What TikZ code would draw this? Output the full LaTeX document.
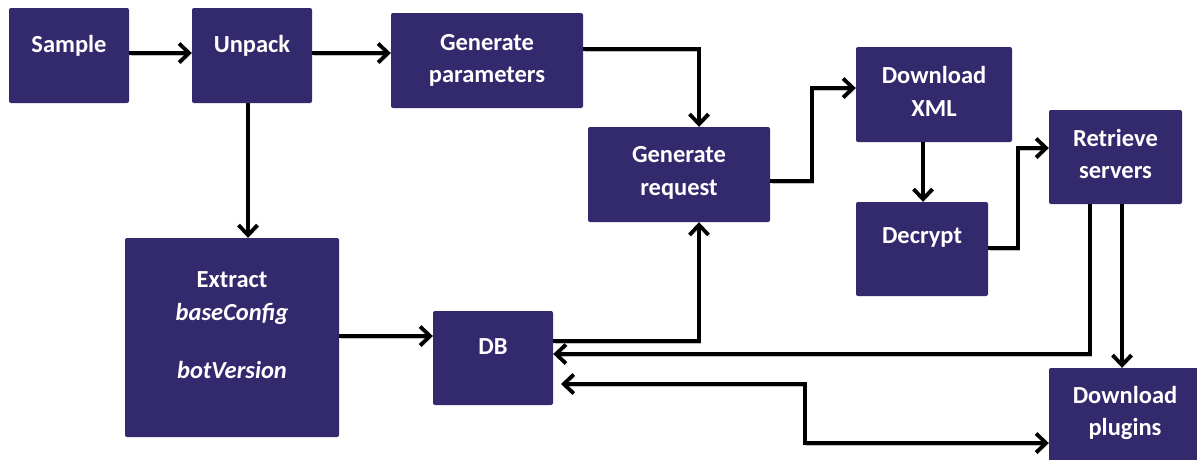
\documentclass[tikz,border=0pt]{standalone}
\usepackage{fontspec}
\setmainfont{Carlito}
\usetikzlibrary{arrows.meta}
\definecolor{navy}{RGB}{51,42,110}
\tikzset{
  box/.style={fill=navy, draw=none, rounded corners=2pt, inner sep=0pt},
  lbl/.style={text=white, anchor=base, inner sep=0pt,
    font=\fontsize{24.5}{29}\selectfont\bfseries},
  ilbl/.style={lbl, font=\fontsize{24.5}{29}\selectfont\bfseries\itshape},
  tip/.style={},
  flow/.style={line width=3.8pt, -{Straight Barb[length=10pt,width=19pt]},
    preaction={draw=black!25, transform canvas={xshift=1.5pt,yshift=-1.8pt}}},
  both/.style={flow, {Straight Barb[length=10pt,width=19pt]}-{Straight Barb[length=10pt,width=19pt]}}
}
\begin{document}
\begin{tikzpicture}[x=1pt,y=-1pt]
\useasboundingbox (0,0) rectangle (1197,459);

% boxes
\node[box, minimum width=120pt, minimum height=95pt] (sample)   at (69,55.5) {};
\node[box, minimum width=120pt, minimum height=95pt] (unpack)   at (252,55.5) {};
\node[box, minimum width=192pt, minimum height=95pt] (genparam) at (487,60.5) {};
\node[box, minimum width=182pt, minimum height=95pt] (genreq)   at (679,174.5) {};
\node[box, minimum width=156pt, minimum height=95pt] (dlxml)    at (934,94.5) {};
\node[box, minimum width=132pt, minimum height=94pt] (decrypt)  at (922,249) {};
\node[box, minimum width=133pt, minimum height=94pt] (retrieve) at (1115.5,157) {};
\node[box, minimum width=214pt, minimum height=199pt] (extract) at (232,337.5) {};
\node[box, minimum width=120pt, minimum height=94pt] (db)       at (493,358) {};
\node[box, minimum width=152pt, minimum height=95pt] (plugins)  at (1125,415.5) {};

% labels
\node[lbl] (tSample)  at (69,52) {Sample};
\node[lbl] (tUnpack)  at (252,52) {Unpack};
\node[lbl] (tGenP1)   at (487,50) {Generate};
\node[lbl] (tGenP2)   at (487,82) {parameters};
\node[lbl] (tGenR1)   at (679,162) {Generate};
\node[lbl] (tGenR2)   at (679,195) {request};
\node[lbl] (tXml1)    at (934,83) {Download};
\node[lbl] (tXml2)    at (934,116) {XML};
\node[lbl] (tDecrypt) at (922,243) {Decrypt};
\node[lbl] (tRet1)    at (1115.5,146) {Retrieve};
\node[lbl] (tRet2)    at (1115.5,178) {servers};
\node[lbl] (tExt1)    at (232,287) {Extract};
\node[ilbl] (tExt2)   at (232,320) {baseConfig};
\node[ilbl] (tExt3)   at (232,378) {botVersion};
\node[lbl] (tDB)      at (493,354) {DB};
\node[lbl] (tPlug1)   at (1125,403) {Download};
\node[lbl] (tPlug2)   at (1125,435) {plugins};

\coordinate (dbgap) at (561,384);

% connectors
\draw[flow] (sample.east |- 0,53) -- (unpack.west |- 0,53);
\draw[flow] (unpack.east |- 0,53) -- (genparam.west |- 0,53);
\draw[flow] (genparam.east |- 0,49) -| (genreq.north -| 699,0);
\draw[flow] (unpack.south -| 248,0) -- (extract.north -| 248,0);
\draw[flow] (extract.east |- 0,336) -- (db.west |- 0,336);
\draw[flow] (db.east |- 0,341) -| (genreq.south -| 699,0);
\draw[flow] (genreq.east |- 0,181) -| (812,88) -- (dlxml.west |- 0,88);
\draw[flow] (dlxml.south -| 923,0) -- (decrypt.north -| 923,0);
\draw[flow] (decrypt.east |- 0,248) -| (1018,148) -- (retrieve.west |- 0,148);
\draw[flow] (retrieve.south -| 1090,0) |- (db.east |- 0,354);
\draw[flow] (retrieve.south -| 1122,0) -- (plugins.north -| 1122,0);
\draw[both] (dbgap) -- (805,384) |- (plugins.west |- 0,443);
\end{tikzpicture}
\end{document}
